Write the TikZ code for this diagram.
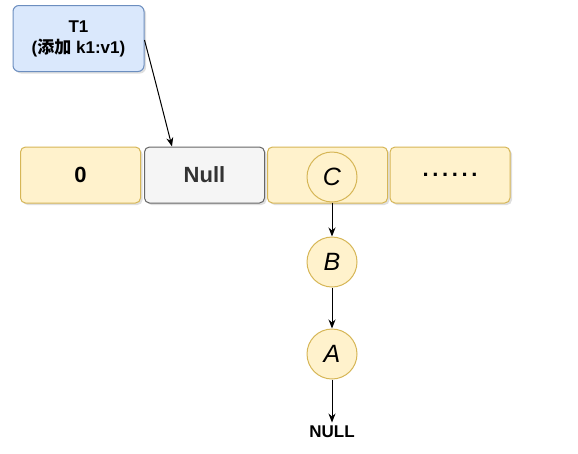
\documentclass[tikz,border=0pt]{standalone}
\usepackage{fontspec}
\setmainfont{Liberation Sans}
\newfontfamily\cjk{Noto Sans CJK SC}
\usepackage{xcolor}
\usepackage{tikz}
\usetikzlibrary{arrows.meta,shadows}
\definecolor{yfill}{HTML}{FFF2CC}
\definecolor{yline}{HTML}{D6B656}
\definecolor{bfill}{HTML}{DAE8FC}
\definecolor{bline}{HTML}{6C8EBF}
\definecolor{gfill}{HTML}{F5F5F5}
\definecolor{gline}{HTML}{666666}
\tikzset{
  shad/.style={drop shadow={shadow xshift=2pt, shadow yshift=-2pt, opacity=0.25, fill=gray}},
  cell/.style={draw=yline, fill=yfill, line width=1pt, rounded corners=5pt, shad,
    minimum width=120pt, minimum height=56pt, inner sep=0pt, font=\bfseries\fontsize{22}{24}\selectfont},
  nullcell/.style={cell, draw=gline, fill=gfill, text=black!80},
  task/.style={draw=bline, fill=bfill, line width=1pt, rounded corners=6pt, shad,
    minimum width=131pt, minimum height=66pt, inner sep=0pt, align=center,
    font=\bfseries\fontsize{17}{21}\selectfont},
  ball/.style={circle, draw=yline, fill=yfill, line width=1pt, minimum size=50pt,
    inner sep=0pt, font=\itshape\fontsize{25}{26}\selectfont},
  link/.style={draw=black, line width=1pt, -{Stealth[length=9pt,width=7pt]}},
  lab/.style={font=\bfseries\fontsize{17}{18}\selectfont},
}
\begin{document}
\begin{tikzpicture}[x=1pt,y=-1pt]
  \useasboundingbox (0,0) rectangle (578,453);
  % task box
  \node[task] (t1) at (78.5,38.5) {T1\\({\cjk 添加} k1:v1)};
  % hash table cells
  \node[cell] (c0) at (80.5,175) {0};
  \node[nullcell] (cnull) at (204.5,175) {Null};
  \node[cell] (cc) at (327.5,175) {};
  \node[cell] (cdots) at (450,175) {.\,.\,.\,.\,.\,.};
  % linked list
  \node[ball] (nc) at (332,177) {C};
  \node[ball] (nb) at (332,262) {B};
  \node[ball] (na) at (332,354) {A};
  \node[lab] (nnull) at (332,432) {NULL};
  \draw[link] (t1.east |- 0,40) .. controls (155,80) .. (cnull.north -| 172,0);
  \draw[link] (nc) -- (nb);
  \draw[link] (nb) -- (na);
  \draw[link] (na) -- (nnull);
\end{tikzpicture}
\end{document}
